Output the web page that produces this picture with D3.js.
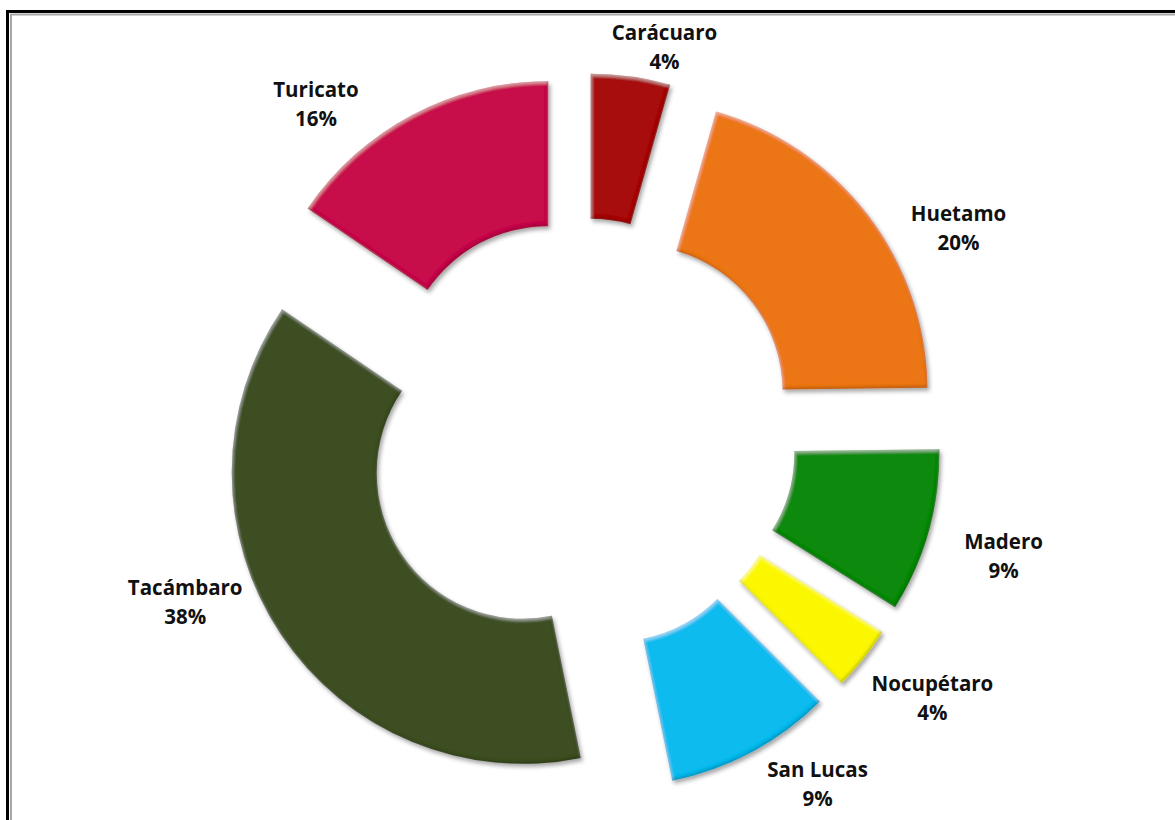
<!DOCTYPE html>
<html>
<head>
<meta charset="utf-8">
<script src="https://cdn.jsdelivr.net/npm/d3@7/dist/d3.min.js"></script>
<style>
  html, body { margin: 0; padding: 0; background: #fff; }
  svg { display: block; }
  .lbl { font-family: "Open Sans", Calibri, Lato, sans-serif; font-weight: 700; font-size: 20.5px; fill: #111; }
</style>
</head>
<body>
<svg id="chart" width="1175" height="820"></svg>
<script>
// Municipalities and their share of the total (%)
const categories = ["Carácuaro", "Huetamo", "Madero", "Nocupétaro", "San Lucas", "Tacámbaro", "Turicato"];
const shares = [4.4, 20.4, 9.1, 3.6, 9.3, 37.7, 15.5];
const colors = ["#A80A09", "#EC7615", "#0A8A0C", "#FBF700", "#0CBBEF", "#3E5022", "#C8084B"];

// Label placement around the ring: [angle in degrees clockwise from 12 o'clock, distance from centre]
const labelPolar = [[12.2, 395], [61.4, 430], [106.2, 440], [127.0, 440], [146.0, 423], [247.0, 430], [321.2, 423]];

const W = 1175, H = 820;
const cx = 581, cy = 434;
const outerR = 291, innerR = 146, explode = 70;

const svg = d3.select("#chart");

// Double frame (black outer rule, grey inner rule)
svg.append("rect").attr("x", 7.5).attr("y", 11.5).attr("width", 1300).attr("height", 1000)
  .attr("fill", "none").attr("stroke", "#000").attr("stroke-width", 3);
svg.append("rect").attr("x", 11).attr("y", 14.5).attr("width", 1300).attr("height", 1000)
  .attr("fill", "none").attr("stroke", "#a6a6a6").attr("stroke-width", 2);

// Soft rounded bevel with a drop shadow
const defs = svg.append("defs");
const f = defs.append("filter").attr("id", "bevel")
  .attr("x", "-15%").attr("y", "-15%").attr("width", "130%").attr("height", "130%");
f.append("feGaussianBlur").attr("in", "SourceAlpha").attr("stdDeviation", 2.2).attr("result", "sblur");
f.append("feOffset").attr("in", "sblur").attr("dx", 2).attr("dy", 3).attr("result", "soff");
f.append("feFlood").attr("flood-color", "#000").attr("flood-opacity", 0.35).attr("result", "sfl");
f.append("feComposite").attr("in", "sfl").attr("in2", "soff").attr("operator", "in").attr("result", "shadow");

f.append("feOffset").attr("in", "SourceAlpha").attr("dx", 1.2).attr("dy", 2).attr("result", "hoff");
f.append("feGaussianBlur").attr("in", "hoff").attr("stdDeviation", 1.4).attr("result", "hblur");
f.append("feComposite").attr("in", "SourceAlpha").attr("in2", "hblur").attr("operator", "out").attr("result", "hband");
f.append("feFlood").attr("flood-color", "#fff").attr("flood-opacity", 0.35).attr("result", "hfl");
f.append("feComposite").attr("in", "hfl").attr("in2", "hband").attr("operator", "in").attr("result", "hl");

f.append("feOffset").attr("in", "SourceAlpha").attr("dx", -1.5).attr("dy", -2.5).attr("result", "doff");
f.append("feGaussianBlur").attr("in", "doff").attr("stdDeviation", 1.6).attr("result", "dblur");
f.append("feComposite").attr("in", "SourceAlpha").attr("in2", "dblur").attr("operator", "out").attr("result", "dband");
f.append("feFlood").attr("flood-color", "#000").attr("flood-opacity", 0.4).attr("result", "dfl");
f.append("feComposite").attr("in", "dfl").attr("in2", "dband").attr("operator", "in").attr("result", "dk");

const m = f.append("feMerge");
["shadow", "SourceGraphic", "hl", "dk"].forEach(n => m.append("feMergeNode").attr("in", n));

const data = categories.map((c, i) => ({ name: c, value: shares[i], color: colors[i], lp: labelPolar[i] }));
const total = d3.sum(shares);

const pie = d3.pie().value(d => d.value).sort(null).startAngle(0).endAngle(2 * Math.PI);
const arc = d3.arc().innerRadius(innerR).outerRadius(outerR);
const arcs = pie(data);

const g = svg.append("g").attr("transform", `translate(${cx},${cy})`);

g.selectAll("path.slice").data(arcs).join("path")
  .attr("class", "slice")
  .attr("d", arc)
  .attr("fill", d => d.data.color)
  .attr("filter", "url(#bevel)")
  .attr("transform", d => {
    const a = (d.startAngle + d.endAngle) / 2;
    return `translate(${explode * Math.sin(a)},${-explode * Math.cos(a)})`;
  });

const pct = v => Math.round(v / total * 100) + "%";
const lbl = g.selectAll("text.lbl").data(arcs).join("text")
  .attr("class", "lbl")
  .attr("text-anchor", "middle")
  .attr("transform", d => {
    const a = d.data.lp[0] * Math.PI / 180, r = d.data.lp[1];
    return `translate(${r * Math.sin(a)},${-r * Math.cos(a)})`;
  });
lbl.append("tspan").attr("x", 0).attr("y", -7.5).text(d => d.data.name);
lbl.append("tspan").attr("x", 0).attr("y", 21.5).text(d => pct(d.data.value));
</script>
</body>
</html>
